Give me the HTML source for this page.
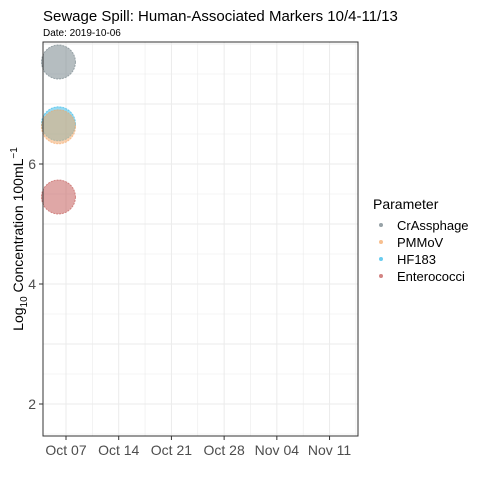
<!DOCTYPE html>
<html><head><meta charset="utf-8"><style>
body{margin:0;background:#fff;font-family:"Liberation Sans",sans-serif}
</style></head><body>
<svg id="chart" width="480" height="480" xmlns="http://www.w3.org/2000/svg" font-family="Liberation Sans, sans-serif">
<rect width="480" height="480" fill="#fff"/>
<text x="43" y="21" font-size="15" fill="#000">Sewage Spill: Human-Associated Markers 10/4-11/13</text>
<text x="43" y="36" font-size="10" fill="#000">Date: 2019-10-06</text>
<g id="grid"></g>
<g id="marks"></g>
<rect x="43" y="42" width="315" height="394" fill="none" stroke="#333" stroke-width="1"/>
<g id="axes"></g>
<text transform="translate(23,239) rotate(-90)" text-anchor="middle" font-size="14" fill="#000">Log<tspan font-size="10" dy="4">10</tspan><tspan dy="-4"> Concentration 100mL</tspan><tspan font-size="10" dy="-6">−1</tspan></text>
<g>
<text x="373" y="209" font-size="14">Parameter</text>
<g id="legend"></g>
</g>
</svg>
<script>
const params=["CrAssphage","PMMoV","HF183","Enterococci"];
const dates=["2019-10-06","2019-10-06","2019-10-06","2019-10-06"];
const values=[7.7,6.62,6.67,5.45];
const colors=["#6b7b82","#f4a460","#29b6e8","#c0504d"];
const yTicks=[2,4,6];
const xTickLabels=["Oct 07","Oct 14","Oct 21","Oct 28","Nov 04","Nov 11"];
const xTickDates=["2019-10-07","2019-10-14","2019-10-21","2019-10-28","2019-11-04","2019-11-11"];
const NS="http://www.w3.org/2000/svg";
const x0=Date.UTC(2019,9,7);
function day(s){const p=s.split('-');return (Date.UTC(+p[0],p[1]-1,+p[2])-x0)/864e5;}
function xs(s){return 66+day(s)*7.53;}
function xd(d){return 66+d*7.53;}
function ys(v){return 404-(v-2)*60;}
function el(t,a,parent){const e=document.createElementNS(NS,t);for(const k in a)e.setAttribute(k,a[k]);parent.appendChild(e);return e;}
const grid=document.getElementById('grid'),axes=document.getElementById('axes'),marks=document.getElementById('marks'),leg=document.getElementById('legend');
for(let v=1.5;v<=8;v+=0.5){const y=ys(v);if(y<42||y>436)continue;
 const l=el('line',{x1:43,x2:358,y1:y,y2:y,stroke:'#ebebeb','stroke-width':(v%1===0)?1:0.6},grid);
 }
for(let d=-3.5;d<=40;d+=3.5){const x=xd(d);if(x<43||x>358)continue;
 const l=el('line',{x1:x,x2:x,y1:42,y2:436,stroke:'#ebebeb','stroke-width':(d%7===0)?1:0.6},grid);
 }
yTicks.forEach(v=>{const y=ys(v);
 el('line',{x1:39,x2:43,y1:y,y2:y,stroke:'#333'},axes);
 const t=el('text',{x:36,y:y+5,'text-anchor':'end','font-size':14,fill:'#4d4d4d'},axes);t.textContent=v;
 });
xTickLabels.forEach((lab,i)=>{const x=xs(xTickDates[i]);
 el('line',{x1:x,x2:x,y1:436,y2:440,stroke:'#333'},axes);
 const t=el('text',{x:x,y:455,'text-anchor':'middle','font-size':14,fill:'#4d4d4d'},axes);t.textContent=lab;
 });
for(let i=params.length-1;i>=0;i--){const p=params[i];
 const c=el('circle',{cx:xs(dates[i]),cy:ys(values[i]),r:17,fill:colors[i],'fill-opacity':0.5,stroke:colors[i],'stroke-opacity':0.6,'stroke-dasharray':'2 1'},marks);
 }
params.forEach((p,i)=>{
 const y=229+i*17;
 const d=el('circle',{cx:381,cy:y-4,r:2,fill:colors[i],'fill-opacity':0.7},leg);
 
 const t=el('text',{x:397,y:y+1,'font-size':13,fill:'#000'},leg);t.textContent=p;
 });
</script>
</body></html>
